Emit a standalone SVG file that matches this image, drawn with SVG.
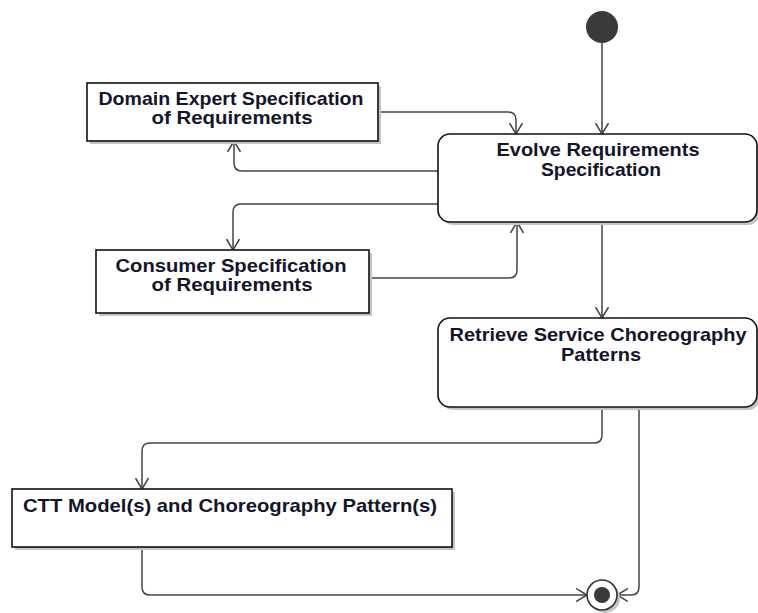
<svg xmlns="http://www.w3.org/2000/svg" width="758" height="613" viewBox="0 0 758 613">
  <defs>
    <marker id="open" markerUnits="userSpaceOnUse" markerWidth="13" markerHeight="15" refX="11" refY="7" orient="auto">
      <path d="M0,0.5 L11,7 L0,13.5" fill="none" stroke="#444" stroke-width="1.5"/>
    </marker>
    <style>
      .box { fill: #fff; stroke: #111; stroke-width: 1.6; }
      .shadow { fill: #c4c4c4; }
      .lbl { font-family: "Liberation Sans", Arial, sans-serif; font-weight: bold; font-size: 19px; fill: #14142a; text-anchor: middle; }
      .edge { fill: none; stroke: #444; stroke-width: 1.5; }
      .arrow { marker-end: url(#open); }
    </style>
  </defs>
  <rect width="758" height="613" fill="#fff"/>

  <!-- transitions -->
  <g id="connectors">
    <path class="edge arrow" d="M602,43 V134"/>
    <path class="edge arrow" d="M378,112 H508 Q516,112 516,120 V134"/>
    <path class="edge arrow" d="M438,171 H242 Q234,171 234,163 V141"/>
    <path class="edge arrow" d="M438,204 H241 Q233,204 233,212 V250"/>
    <path class="edge arrow" d="M369,278 H509 Q517,278 517,270 V222"/>
    <path class="edge arrow" d="M602,222 V318"/>
    <path class="edge arrow" d="M602,407 V435 Q602,443 594,443 H150 Q142,443 142,451 V489"/>
    <path class="edge arrow" d="M142,547 V587 Q142,595 150,595 H587"/>
    <path class="edge arrow" d="M639,407 V587 Q639,595 631,595 H617"/>
  </g>

  <!-- start -->
  <g id="initial">
    <circle cx="602" cy="27" r="16" fill="#3a3a3a"/>
  </g>

  <g id="domain-expert">
    <rect class="shadow" x="90" y="86" width="291" height="58"/>
    <rect class="box" x="87" y="83" width="291" height="58"/>
    <text class="lbl" x="231" y="105" textLength="265" lengthAdjust="spacingAndGlyphs">Domain Expert Specification</text>
    <text class="lbl" x="232" y="124" textLength="161" lengthAdjust="spacingAndGlyphs">of Requirements</text>
  </g>

  <g id="evolve">
    <rect class="shadow" x="441" y="137" width="319" height="88" rx="12"/>
    <rect class="box" x="438" y="134" width="319" height="88" rx="12"/>
    <text class="lbl" x="598" y="156" textLength="203" lengthAdjust="spacingAndGlyphs">Evolve Requirements</text>
    <text class="lbl" x="601" y="176" textLength="120" lengthAdjust="spacingAndGlyphs">Specification</text>
  </g>

  <g id="consumer">
    <rect class="shadow" x="99" y="253" width="273" height="63"/>
    <rect class="box" x="96" y="250" width="273" height="63"/>
    <text class="lbl" x="231" y="272" textLength="231" lengthAdjust="spacingAndGlyphs">Consumer Specification</text>
    <text class="lbl" x="232" y="291" textLength="161" lengthAdjust="spacingAndGlyphs">of Requirements</text>
  </g>

  <g id="retrieve">
    <rect class="shadow" x="441" y="321" width="319" height="89" rx="12"/>
    <rect class="box" x="438" y="318" width="319" height="89" rx="12"/>
    <text class="lbl" x="598" y="341" textLength="297" lengthAdjust="spacingAndGlyphs">Retrieve Service Choreography</text>
    <text class="lbl" x="601" y="361" textLength="80" lengthAdjust="spacingAndGlyphs">Patterns</text>
  </g>

  <g id="ctt">
    <rect class="shadow" x="15" y="492" width="440" height="58"/>
    <rect class="box" x="12" y="489" width="440" height="58"/>
    <text class="lbl" x="230" y="512" textLength="414" lengthAdjust="spacingAndGlyphs">CTT Model(s) and Choreography Pattern(s)</text>
  </g>

  <!-- end -->
  <g id="final">
    <circle cx="605" cy="598" r="15" fill="#c4c4c4"/>
    <circle cx="602" cy="595" r="15" fill="#fff" stroke="#333" stroke-width="1.6"/>
    <circle cx="602" cy="595" r="8" fill="#3a3a3a"/>
  </g>
</svg>
